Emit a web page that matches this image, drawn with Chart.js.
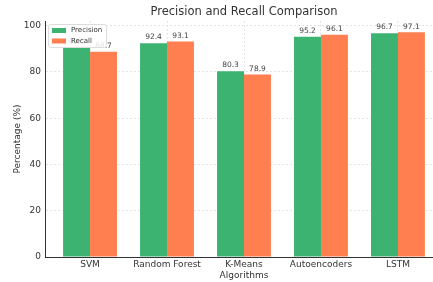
<!DOCTYPE html>
<html>
<head>
<meta charset="utf-8">
<script src="https://cdn.jsdelivr.net/npm/chart.js@4.4.0/dist/chart.umd.min.js"></script>
<style>
  html, body { margin: 0; padding: 0; background: #fff; overflow: hidden; }
  #wrap { width: 443px; height: 282px; }
</style>
</head>
<body>
<div id="wrap"><canvas id="chart" width="443" height="282"></canvas></div>
<script>
const categories = ["SVM", "Random Forest", "K-Means", "Autoencoders", "LSTM"];
const precision = [90.5, 92.4, 80.3, 95.2, 96.7];
const recall = [88.7, 93.1, 78.9, 96.1, 97.1];
const yTicks = [0, 20, 40, 60, 80, 100];

const green = "#3cb371";
const orange = "#ff7f50";
const font = "'DejaVu Sans', sans-serif";

// value labels above bars
const barLabels = {
  id: "barLabels",
  afterDatasetsDraw(chart) {
    const ctx = chart.ctx;
    ctx.save();
    ctx.font = "7.5px " + font;
    ctx.fillStyle = "#444";
    ctx.textAlign = "center";
    ctx.textBaseline = "bottom";
    chart.data.datasets.forEach((ds, di) => {
      chart.getDatasetMeta(di).data.forEach((bar, i) => {
        ctx.fillText(ds.data[i].y.toFixed(1), bar.x, bar.y - 2);
      });
    });
    ctx.restore();
  }
};

// title centred on plot area + legend box in upper left
const extras = {
  id: "extras",
  afterDraw(chart) {
    const ctx = chart.ctx;
    const a = chart.chartArea;
    ctx.save();
    ctx.font = "11.5px " + font;
    ctx.fillStyle = "#333";
    ctx.textAlign = "center";
    ctx.textBaseline = "middle";
    ctx.fillText("Precision and Recall Comparison", (a.left + a.right) / 2, 12);

    const x0 = a.left + 3, y0 = a.top + 3;
    ctx.fillStyle = "rgba(255,255,255,0.85)";
    ctx.strokeStyle = "#ddd";
    ctx.lineWidth = 1;
    ctx.beginPath();
    ctx.roundRect(x0 + 0.5, y0 + 0.5, 58, 23, 2);
    ctx.fill();
    ctx.stroke();
    ctx.font = "7px " + font;
    ctx.textAlign = "left";
    [["Precision", green], ["Recall", orange]].forEach(([t, c], i) => {
      const yy = y0 + 6.5 + i * 10.5;
      ctx.fillStyle = c;
      ctx.fillRect(x0 + 4, yy - 2.5, 14, 5);
      ctx.fillStyle = "#333";
      ctx.fillText(t, x0 + 23, yy);
    });
    ctx.restore();
  }
};

new Chart(document.getElementById("chart"), {
  type: "bar",
  data: {
    datasets: [
      {
        label: "Precision",
        backgroundColor: green,
        borderWidth: 0,
        data: categories.map((c, i) => ({ x: i, y: precision[i] }))
      },
      {
        label: "Recall",
        backgroundColor: orange,
        borderWidth: 0,
        data: categories.map((c, i) => ({ x: i, y: recall[i] }))
      }
    ]
  },
  options: {
    responsive: false,
    animation: false,
    categoryPercentage: 0.7,
    barPercentage: 1.0,
    layout: { padding: { top: 21, right: 0, left: 0, bottom: 0 } },
    plugins: {
      legend: { display: false },
      title: { display: false },
      tooltip: { enabled: false }
    },
    scales: {
      x: {
        type: "linear",
        offset: false,
        min: -0.585,
        max: 4.585,
        afterBuildTicks: s => { s.ticks = categories.map((c, i) => ({ value: i })); },
        afterFit: s => { s.height = 25; },
        ticks: {
          callback: v => categories[v],
          font: { family: font, size: 9 },
          color: "#333",
          padding: 2,
          maxRotation: 0,
          autoSkip: false
        },
        grid: { color: "#e4e4e4", drawTicks: false, offset: false },
        border: { color: "#333", dash: [2, 2] },
        title: {
          display: true,
          text: "Algorithms",
          font: { family: font, size: 9 },
          color: "#333",
          padding: { top: 0, bottom: 1 }
        }
      },
      y: {
        min: 0,
        max: 102,
        afterBuildTicks: s => { s.ticks = yTicks.map(v => ({ value: v })); },
        afterFit: s => { s.width = 45; },
        ticks: {
          font: { family: font, size: 9 },
          color: "#333",
          padding: 4
        },
        grid: { color: "#e4e4e4", drawTicks: false },
        border: { color: "#333", dash: [2, 2] },
        title: {
          display: true,
          text: "Percentage (%)",
          font: { family: font, size: 9 },
          color: "#333",
          padding: { top: 12, bottom: 0 }
        }
      }
    }
  },
  plugins: [barLabels, extras]
});
</script>
</body>
</html>
